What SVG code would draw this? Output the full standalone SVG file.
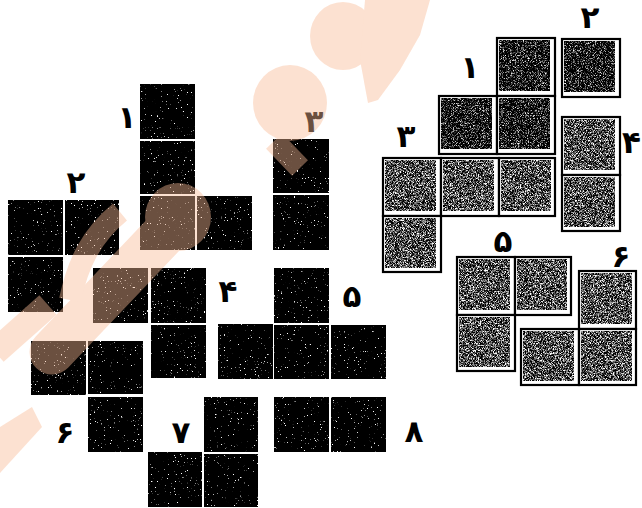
<svg xmlns="http://www.w3.org/2000/svg" width="642" height="508" viewBox="0 0 642 508">
<defs>
<filter id="speck" x="0" y="0" width="1" height="1" color-interpolation-filters="sRGB">
  <feTurbulence type="fractalNoise" baseFrequency="0.7" numOctaves="2" seed="7" result="n"/>
  <feColorMatrix in="n" type="matrix" values="0 0 0 0 1  0 0 0 0 1  0 0 0 0 1  1 0 0 0 0" result="w"/>
  <feComponentTransfer in="w" result="s"><feFuncA type="linear" slope="12" intercept="-8.4"/></feComponentTransfer>
  <feComposite in="s" in2="SourceGraphic" operator="in" result="sc"/>
  <feMerge><feMergeNode in="SourceGraphic"/><feMergeNode in="sc"/></feMerge>
</filter>
<filter id="grainMid" x="0" y="0" width="1" height="1" color-interpolation-filters="sRGB">
  <feTurbulence type="fractalNoise" baseFrequency="1.4" numOctaves="1" seed="3" result="n"/>
  <feColorMatrix in="n" type="matrix" values="1 0 0 0 0  1 0 0 0 0  1 0 0 0 0  0 0 0 0 1" result="g"/>
  <feComponentTransfer in="g" result="c">
    <feFuncR type="linear" slope="3.5" intercept="-1.45"/>
    <feFuncG type="linear" slope="3.5" intercept="-1.45"/>
    <feFuncB type="linear" slope="3.5" intercept="-1.45"/>
  </feComponentTransfer>
  <feComposite in="c" in2="SourceGraphic" operator="in"/>
</filter>
<filter id="grainDark" x="0" y="0" width="1" height="1" color-interpolation-filters="sRGB">
  <feTurbulence type="fractalNoise" baseFrequency="1.4" numOctaves="1" seed="11" result="n"/>
  <feColorMatrix in="n" type="matrix" values="1 0 0 0 0  1 0 0 0 0  1 0 0 0 0  0 0 0 0 1" result="g"/>
  <feComponentTransfer in="g" result="c">
    <feFuncR type="linear" slope="3.5" intercept="-1.72"/>
    <feFuncG type="linear" slope="3.5" intercept="-1.72"/>
    <feFuncB type="linear" slope="3.5" intercept="-1.72"/>
  </feComponentTransfer>
  <feComposite in="c" in2="SourceGraphic" operator="in"/>
</filter>
</defs>
<style>
  .lbl { font-family: "DejaVu Sans", "Noto Sans", sans-serif; font-size: 31px; font-weight: bold; fill: #000; text-anchor: middle; }
  .blk rect { fill: #000; }
  .frame rect { fill: #fff; stroke: #000; stroke-width: 2.2; }
  .gray rect { fill: #666; }
</style>
<rect width="642" height="508" fill="#fff"/>

<!-- Left puzzle: black pieces -->
<g class="blk" filter="url(#speck)">
  <g id="L1"><rect x="140" y="84" width="55" height="55"/><rect x="140" y="141" width="55" height="53"/><rect x="140" y="196" width="55" height="54"/><rect x="197" y="196" width="55" height="54"/></g>
  <g id="L2"><rect x="8" y="200" width="55" height="55"/><rect x="65" y="200" width="54" height="55"/><rect x="8" y="257" width="55" height="55"/></g>
  <g id="L3"><rect x="273" y="139" width="56" height="54"/><rect x="273" y="195" width="56" height="55"/></g>
  <g id="L4"><rect x="93" y="268" width="55" height="55"/><rect x="151" y="268" width="55" height="55"/><rect x="151" y="325" width="55" height="53"/></g>
  <g id="L5"><rect x="274" y="268" width="55" height="55"/><rect x="218" y="324" width="55" height="55"/><rect x="274" y="325" width="55" height="54"/><rect x="331" y="325" width="55" height="54"/></g>
  <g id="L6"><rect x="31" y="341" width="55" height="54"/><rect x="88" y="341" width="55" height="53"/><rect x="88" y="397" width="55" height="55"/></g>
  <g id="L7"><rect x="204" y="397" width="54" height="55"/><rect x="148" y="452" width="54" height="55"/><rect x="204" y="454" width="54" height="53"/></g>
  <g id="L8"><rect x="274" y="397" width="55" height="55"/><rect x="331" y="397" width="55" height="55"/></g>
</g>
<g id="left-labels">
  <text class="lbl" x="127" y="128">۱</text>
  <text class="lbl" x="76" y="193">۲</text>
  <text class="lbl" x="314" y="132">۳</text>
  <text class="lbl" x="228" y="302">۴</text>
  <text class="lbl" x="352" y="307">۵</text>
  <text class="lbl" x="65" y="443">۶</text>
  <text class="lbl" x="181" y="443">۷</text>
  <text class="lbl" x="414" y="442">۸</text>
</g>

<!-- Right puzzle: framed gray pieces -->
<g class="frame">
  <g id="R1f"><rect x="497" y="38" width="58" height="58"/><rect x="439" y="96" width="58" height="58"/><rect x="497" y="96" width="58" height="58"/></g>
  <g id="R2f"><rect x="562" y="39" width="58" height="58"/></g>
  <g id="R3f"><rect x="383" y="158" width="58" height="58"/><rect x="441" y="158" width="58" height="58"/><rect x="499" y="158" width="56" height="58"/><rect x="383" y="216" width="58" height="56"/></g>
  <g id="R4f"><rect x="562" y="117" width="58" height="58"/><rect x="562" y="175" width="58" height="56"/></g>
  <g id="R5f"><rect x="457" y="257" width="58" height="58"/><rect x="515" y="257" width="56" height="58"/><rect x="457" y="315" width="58" height="56"/></g>
  <g id="R6f"><rect x="579" y="271" width="57" height="58"/><rect x="521" y="329" width="58" height="56"/><rect x="579" y="329" width="57" height="56"/></g>
</g>
<g class="gray" filter="url(#grainDark)">
  <rect x="499" y="40" width="51" height="51"/><rect x="441" y="98" width="51" height="51"/><rect x="499" y="98" width="51" height="51"/>
  <rect x="564" y="41" width="51" height="51"/>
</g>
<g class="gray" filter="url(#grainMid)">
  <rect x="385" y="160" width="51" height="51"/><rect x="443" y="160" width="51" height="51"/><rect x="501" y="160" width="50" height="51"/><rect x="385" y="218" width="51" height="50"/>
  <rect x="564" y="119" width="51" height="51"/><rect x="564" y="177" width="51" height="50"/>
  <rect x="459" y="259" width="51" height="51"/><rect x="517" y="259" width="50" height="51"/><rect x="459" y="317" width="51" height="50"/>
  <rect x="581" y="273" width="51" height="51"/><rect x="523" y="331" width="51" height="50"/><rect x="581" y="331" width="51" height="50"/>
</g>
<g id="right-labels">
  <text class="lbl" x="470" y="78">۱</text>
  <text class="lbl" x="590" y="28">۲</text>
  <text class="lbl" x="406" y="147">۳</text>
  <text class="lbl" x="641" y="153" style="text-anchor:end">۴</text>
  <text class="lbl" x="503" y="252">۵</text>
  <text class="lbl" x="621" y="267">۶</text>
</g>

<!-- watermark overlay -->
<g id="watermark" opacity="0.43" fill="#f9ba95" stroke="#f9ba95">
  <polygon points="0,427 32,407 42,427 0,473" stroke="none"/>
  <line x1="-5" y1="352" x2="48" y2="305" stroke-width="26"/>
  <line x1="52" y1="352" x2="185" y2="212" stroke-width="45" stroke-linecap="round"/>
  <path d="M70,300 C78,262 92,235 120,212" fill="none" stroke-width="22"/>
  <ellipse cx="178" cy="217" rx="33" ry="34" stroke="none"/>
  <ellipse cx="290" cy="103" rx="37" ry="38" stroke="none"/>
  <line x1="274" y1="141" x2="300" y2="168" stroke-width="22"/>
  <ellipse cx="343" cy="36" rx="33" ry="34" stroke="none"/>
  <polygon points="365,0 430,0 420,35 400,70 378,100 368,103 360,60" stroke="none"/>
</g>
</svg>
